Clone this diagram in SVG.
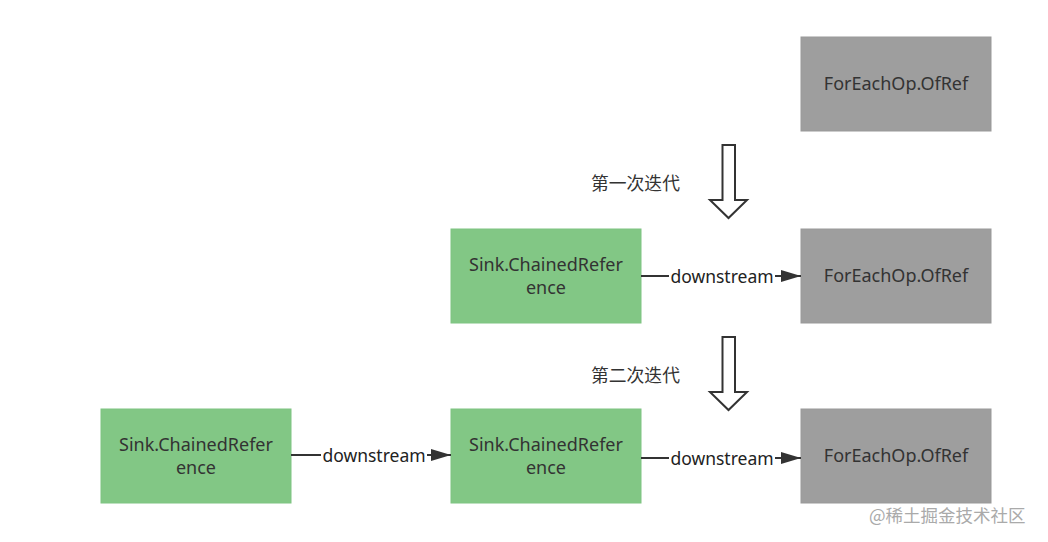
<svg xmlns="http://www.w3.org/2000/svg" width="1048" height="542" viewBox="0 0 1048 542">
<defs>
<style>
.green{fill:#82c785;stroke:#7fc482;stroke-width:1}
.gray{fill:#9e9e9e;stroke:#999;stroke-width:1}
.t{font-family:"Noto Sans","Noto Sans CJK SC",sans-serif;font-size:18px;fill:#333;text-anchor:middle}
.lbl{font-family:"Noto Sans","Noto Sans CJK SC",sans-serif;font-size:17.5px;fill:#222;text-anchor:middle}
.cn{font-family:"Noto Sans CJK SC",sans-serif;font-size:17.8px;fill:#333}
.edge{stroke:#333;stroke-width:2;fill:none}
.hollow{fill:#fff;stroke:#333;stroke-width:2;stroke-linejoin:miter}
</style>
<marker id="ah" viewBox="0 0 20 12" refX="20" refY="6" markerWidth="20" markerHeight="12" markerUnits="userSpaceOnUse" orient="auto">
<path d="M0,0 L20,6 L0,12 Z" fill="#333"/>
</marker>
</defs>
<rect width="1048" height="542" fill="#fff"/>
<g id="node-top-gray"><rect class="gray" x="801" y="37" width="190" height="94"/><text class="t" x="896" y="90">ForEachOp.OfRef</text></g>
<g id="node-mid-green"><rect class="green" x="451" y="229" width="190" height="94"/><text class="t" x="546" y="271">Sink.ChainedRefer</text><text class="t" x="546" y="294">ence</text></g>
<g id="node-mid-gray"><rect class="gray" x="801" y="229" width="190" height="94"/><text class="t" x="896" y="282">ForEachOp.OfRef</text></g>
<g id="node-bot-green1"><rect class="green" x="101" y="409" width="190" height="94"/><text class="t" x="196" y="451">Sink.ChainedRefer</text><text class="t" x="196" y="474">ence</text></g>
<g id="node-bot-green2"><rect class="green" x="451" y="409" width="190" height="94"/><text class="t" x="546" y="451">Sink.ChainedRefer</text><text class="t" x="546" y="474">ence</text></g>
<g id="node-bot-gray"><rect class="gray" x="801" y="409" width="190" height="94"/><text class="t" x="896" y="462">ForEachOp.OfRef</text></g>
<g id="connectors">
<path class="hollow" d="M722.5,145 H735 V200 H747 L728.5,218 L710,200 H722.5 Z"/>
<path class="hollow" d="M722.5,337 H735 V392 H747 L728.5,410 L710,392 H722.5 Z"/>
<line class="edge" x1="641" y1="276" x2="669" y2="276"/>
<line class="edge" x1="775" y1="276" x2="801" y2="276" marker-end="url(#ah)"/>
<text class="lbl" x="722" y="283">downstream</text>
<line class="edge" x1="291" y1="455" x2="321" y2="455"/>
<line class="edge" x1="427" y1="455" x2="451" y2="455" marker-end="url(#ah)"/>
<text class="lbl" x="374" y="462">downstream</text>
<line class="edge" x1="641" y1="458" x2="669" y2="458"/>
<line class="edge" x1="775" y1="458" x2="801" y2="458" marker-end="url(#ah)"/>
<text class="lbl" x="722" y="465">downstream</text>
</g>
<text class="cn" x="591" y="190">第一次迭代</text>
<text class="cn" x="591" y="382">第二次迭代</text>
<text x="869" y="522" style="font-family:'Noto Sans CJK SC',sans-serif;font-size:17.5px;fill:#aaa">@稀土掘金技术社区</text>
</svg>
